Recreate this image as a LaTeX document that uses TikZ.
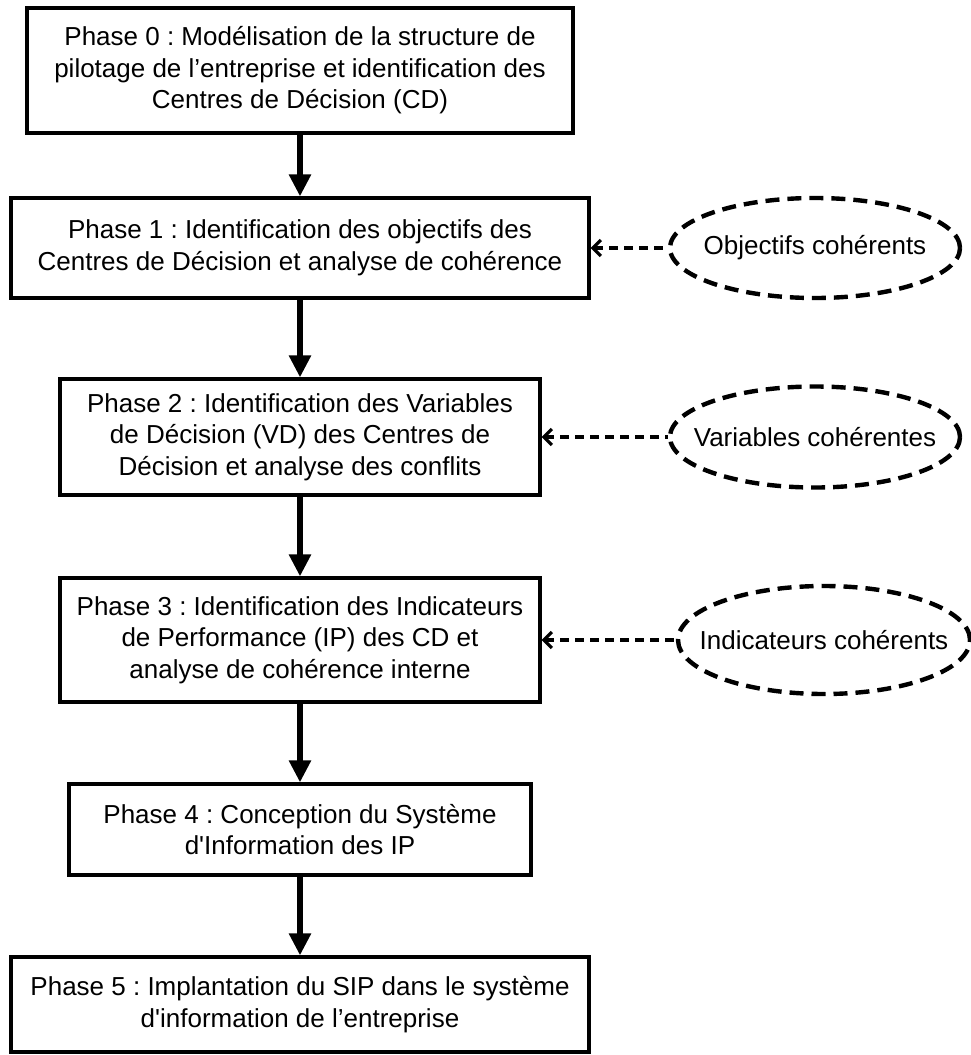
\documentclass[tikz,border=0pt]{standalone}
\usepackage{fontspec}
\setmainfont{Liberation Sans}
\usetikzlibrary{shapes.geometric,arrows.meta}
\frenchspacing

\begin{document}
\begin{tikzpicture}[x=1pt,y=-1pt,font=\fontsize{26pt}{31.5pt}\selectfont]
 % styles
  \tikzstyle{phase}=[rectangle,draw,line width=3.2pt,align=center,inner sep=0pt]
  \tikzstyle{coherent}=[ellipse,draw,line width=4.4pt,dash pattern=on 14pt off 8pt,inner sep=0pt]
  \tikzstyle{flux}=[->,>={Triangle[length=22pt,width=21pt]},line width=5.5pt]
  \tikzstyle{retour}=[<-,>={Straight Barb[length=8pt,width=16pt]},line width=3.2pt,dash pattern=on 9pt off 6pt]
  \useasboundingbox (0,0) rectangle (971,1055);
 % les phases
  \node[phase,minimum width=546pt,minimum height=125pt] (P0) at (300,70.5)
    {Phase 0 : Modélisation de la structure de\\pilotage de l’entreprise et identification des\\Centres de Décision (CD)};
  \node[phase,minimum width=578pt,minimum height=100pt] (P1) at (300,248)
    {Phase 1 : Identification des objectifs des\\Centres de Décision et analyse de cohérence};
  \node[phase,minimum width=480pt,minimum height=116pt] (P2) at (300,437)
    {Phase 2 : Identification des Variables\\de Décision (VD) des Centres de\\Décision et analyse des conflits};
  \node[phase,minimum width=480pt,minimum height=124pt] (P3) at (300,640)
    {Phase 3 : Identification des Indicateurs\\de Performance (IP) des CD et\\analyse de cohérence interne};
  \node[phase,minimum width=462pt,minimum height=91pt] (P4) at (300,829.5)
    {Phase 4 : Conception du Système\\d\textquotesingle Information des IP};
  \node[phase,minimum width=578pt,minimum height=95pt] (P5) at (300,1004.5)
    {Phase 5 : Implantation du SIP dans le système\\d\textquotesingle information de l’entreprise};
 % les ellipses
  \node[coherent,minimum width=290pt,minimum height=100pt,label=center:{Objectifs cohérents}] (O1) at (815,248) {};
  \node[coherent,minimum width=290pt,minimum height=101pt,label=center:{Variables cohérentes}] (O2) at (815,437) {};
  \node[coherent,minimum width=292pt,minimum height=108pt,label=center:{Indicateurs cohérents}] (O3) at (824,640) {};
 % les fleches
  \draw[flux] (P0)--(P1);
  \draw[flux] (P1)--(P2);
  \draw[flux] (P2)--(P3);
  \draw[flux] (P3)--(P4);
  \draw[flux] (P4)--(P5);
  \draw[retour] (P1)--(O1);
  \draw[retour] (P2)--(O2);
  \draw[retour] (P3)--(O3);
\end{tikzpicture}
\end{document}
